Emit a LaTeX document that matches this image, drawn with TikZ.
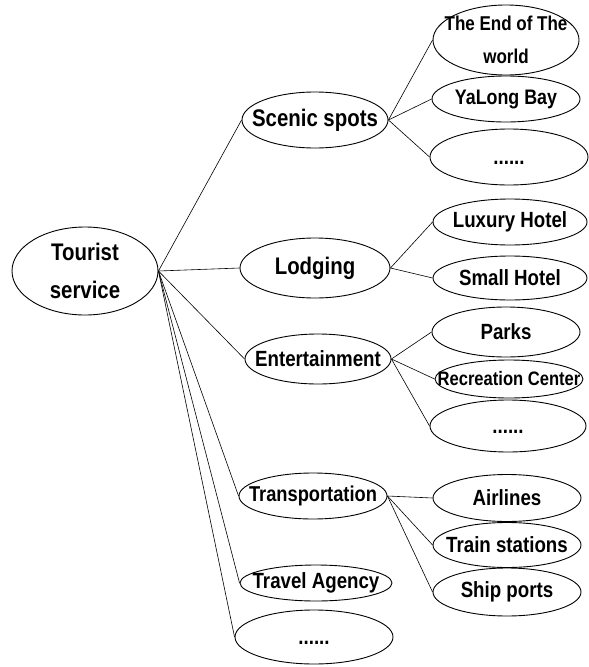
\documentclass[tikz,border=0pt]{standalone}
\usepackage{fontspec}
\setmainfont{Liberation Sans}[FakeStretch=0.85]
\usetikzlibrary{shapes.geometric}

\begin{document}
\begin{tikzpicture}[x=1pt, y=-1pt,
    bubble/.style={draw, ellipse, line width=0.9pt, inner sep=0pt},
    link/.style={line width=0.6pt},
    every label/.style={font=\bfseries\fontsize{22}{22}\selectfont, inner sep=0pt, align=center}]
  \useasboundingbox (0,0) rectangle (589,667);

  % root and first level
  \node[bubble, minimum width=146pt, minimum height=88pt,
        label={[font=\bfseries\fontsize{24}{38}\selectfont]center:Tourist\\service}] (tourist) at (85,271) {};

  \node[bubble, minimum width=146pt, minimum height=56pt,
        label={[font=\bfseries\fontsize{24}{24}\selectfont]center:Scenic spots}] (scenic) at (315,120) {};
  \node[bubble, minimum width=150pt, minimum height=60pt,
        label={[font=\bfseries\fontsize{24}{24}\selectfont]center:Lodging}] (lodging) at (315,268) {};
  \node[bubble, minimum width=146pt, minimum height=50pt,
        label=center:Entertainment] (entertain) at (318,359) {};
  \node[bubble, minimum width=148pt, minimum height=46pt,
        label={[font=\bfseries\fontsize{21.5}{21.5}\selectfont]center:Transportation}] (transport) at (313,496) {};
  \node[bubble, minimum width=152pt, minimum height=36pt,
        label=center:Travel Agency] (agency) at (316,583) {};
  \node[bubble, minimum width=158pt, minimum height=54pt,
        label={[yshift=-6pt]center:......}] (more) at (314,637) {};

  % second level
  \node[bubble, minimum width=146pt, minimum height=70pt,
        label={[font=\bfseries\fontsize{20}{33}\selectfont]center:The End of The\\world}] (endworld) at (506,40) {};
  \node[bubble, minimum width=148pt, minimum height=46pt,
        label={[font=\bfseries\fontsize{21}{21}\selectfont]center:YaLong Bay}] (yalong) at (506,99) {};
  \node[bubble, minimum width=158pt, minimum height=56pt,
        label={[yshift=-6pt]center:......}] (scenicmore) at (509,157) {};

  \node[bubble, minimum width=154pt, minimum height=46pt,
        label=center:Luxury Hotel] (luxury) at (510,222) {};
  \node[bubble, minimum width=154pt, minimum height=44pt,
        label=center:Small Hotel] (small) at (510,278) {};

  \node[bubble, minimum width=148pt, minimum height=50pt,
        label=center:Parks] (parks) at (506,332) {};
  \node[bubble, minimum width=148pt, minimum height=38pt,
        label={[font=\bfseries\fontsize{19.5}{19.5}\selectfont]center:Recreation Center}] (recreation) at (509,379) {};
  \node[bubble, minimum width=156pt, minimum height=52pt,
        label={[yshift=-6pt]center:......}] (entermore) at (508,426) {};

  \node[bubble, minimum width=148pt, minimum height=47pt,
        label=center:Airlines] (airlines) at (507,498) {};
  \node[bubble, minimum width=148pt, minimum height=45pt,
        label=center:Train stations] (train) at (507,545) {};
  \node[bubble, minimum width=148pt, minimum height=48pt,
        label=center:Ship ports] (ship) at (507,592) {};

  % connectors
  \foreach \n in {scenic, lodging, entertain, transport, agency, more}
    \draw[link] (tourist.east) -- (\n.west);
  \foreach \n in {endworld, yalong, scenicmore}
    \draw[link] (scenic.east) -- (\n.west);
  \foreach \n in {luxury, small}
    \draw[link] (lodging.east) -- (\n.west);
  \foreach \n in {parks, recreation, entermore}
    \draw[link] (entertain.east) -- (\n.west);
  \foreach \n in {airlines, train, ship}
    \draw[link] (transport.east) -- (\n.west);
\end{tikzpicture}
\end{document}
